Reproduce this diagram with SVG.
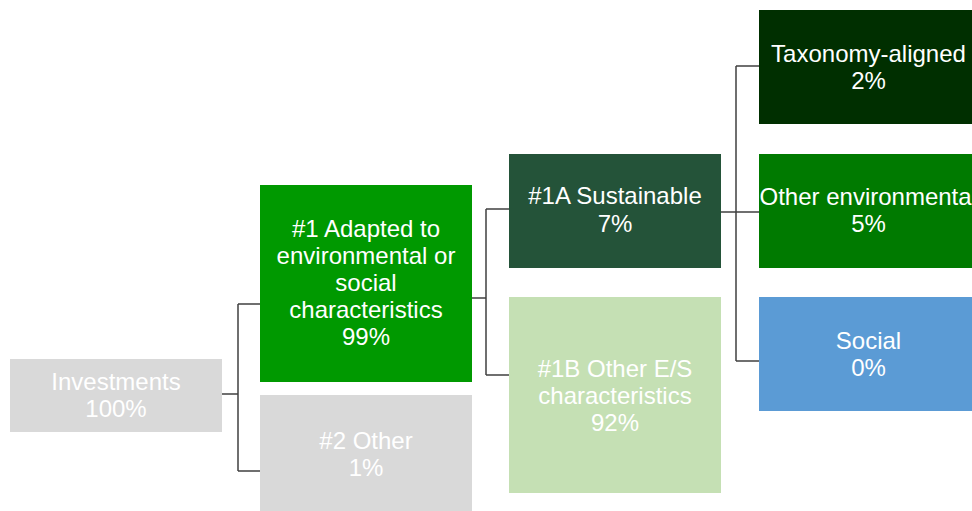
<svg xmlns="http://www.w3.org/2000/svg" width="972" height="511" viewBox="0 0 972 511">
  <style>
    .lbl { font-family: "Liberation Sans", Arial, sans-serif; font-size: 24px; fill: #FFFFFF; text-anchor: middle; }
    .conn { fill: none; stroke: #404040; stroke-width: 1.5; }
  </style>
  <rect width="972" height="511" fill="#FFFFFF"/>

  <!-- connectors -->
  <g id="connectors">
    <path class="conn" d="M222,394 H238 M238,304 V471 M238,304 H260 M238,471 H260"/>
    <path class="conn" d="M472,298 H486 M486,209 V375 M486,209 H509 M486,375 H509"/>
    <path class="conn" d="M721,212 H736 M736,66 V361 M736,66 H759 M736,212 H759 M736,361 H759"/>
  </g>

  <g id="investments">
    <rect x="10" y="359" width="212" height="73" fill="#D9D9D9"/>
    <text class="lbl" x="116" y="390">Investments</text>
    <text class="lbl" x="116" y="417">100%</text>
  </g>

  <g id="adapted">
    <rect x="260" y="185" width="212" height="197" fill="#009900"/>
    <text class="lbl" x="366" y="237">#1 Adapted to</text>
    <text class="lbl" x="366" y="264">environmental or</text>
    <text class="lbl" x="366" y="291">social</text>
    <text class="lbl" x="366" y="318">characteristics</text>
    <text class="lbl" x="366" y="345">99%</text>
  </g>

  <g id="other">
    <rect x="260" y="395" width="212" height="116" fill="#D9D9D9"/>
    <text class="lbl" x="366" y="449">#2 Other</text>
    <text class="lbl" x="366" y="476">1%</text>
  </g>

  <g id="sustainable">
    <rect x="509" y="154" width="212" height="114" fill="#245339"/>
    <text class="lbl" x="615" y="204">#1A Sustainable</text>
    <text class="lbl" x="615" y="232">7%</text>
  </g>

  <g id="other-es">
    <rect x="509" y="297" width="212" height="196" fill="#C5E0B4"/>
    <text class="lbl" x="615" y="377">#1B Other E/S</text>
    <text class="lbl" x="615" y="404">characteristics</text>
    <text class="lbl" x="615" y="431">92%</text>
  </g>

  <g id="taxonomy">
    <rect x="759" y="10" width="219" height="114" fill="#002F00"/>
    <text class="lbl" x="868.5" y="62">Taxonomy-aligned</text>
    <text class="lbl" x="868.5" y="89">2%</text>
  </g>

  <g id="other-env">
    <rect x="759" y="154" width="219" height="114" fill="#007A00"/>
    <text class="lbl" x="759.5" y="205" style="text-anchor:start">Other environmenta</text>
    <text class="lbl" x="868.5" y="232">5%</text>
  </g>

  <g id="social">
    <rect x="759" y="297" width="219" height="114" fill="#5B9BD5"/>
    <text class="lbl" x="868.5" y="349">Social</text>
    <text class="lbl" x="868.5" y="376">0%</text>
  </g>
</svg>
